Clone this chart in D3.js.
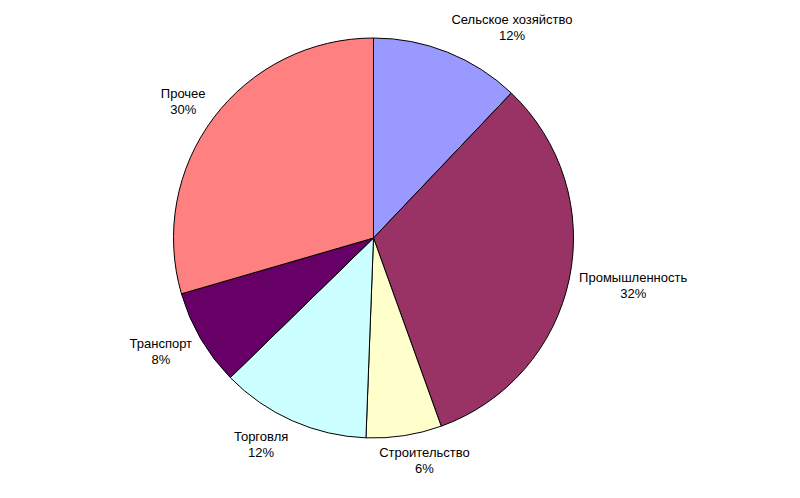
<!DOCTYPE html>
<html>
<head>
<meta charset="utf-8">
<script src="https://cdn.jsdelivr.net/npm/d3@7"></script>
<style>
  body { margin: 0; background: #fff; }
  svg text { font-family: "Liberation Sans", Arial, sans-serif; font-size: 13px; fill: #000; }
</style>
</head>
<body>
<script>
  // Sectors, clockwise from 12 o'clock (shares in %, labels show them rounded)
  let sectors = ['Сельское хозяйство', 'Промышленность', 'Строительство', 'Торговля', 'Транспорт', 'Прочее'];
  let shares  = [12.1, 32.4, 6.1, 12.1, 7.8, 29.5];
  let colours = ['#9999ff', '#993366', '#ffffcc', '#ccffff', '#660066', '#ff8080'];

  let width = 800, height = 498;
  let cx = 373.5, cy = 238, radius = 200;

  let svg = d3.select('body').append('svg')
      .attr('width', width)
      .attr('height', height);

  let data = sectors.map((s, i) => ({ name: s, value: shares[i], colour: colours[i] }));

  let pie = d3.pie().value(d => d.value).sort(null);
  let arc = d3.arc().innerRadius(0).outerRadius(radius);

  let g = svg.append('g').attr('transform', 'translate(' + cx + ',' + cy + ')');

  g.selectAll('path.slice')
    .data(pie(data))
    .enter()
    .append('path')
    .attr('class', 'slice')
    .attr('d', arc)
    .attr('fill', d => d.data.colour)
    .attr('stroke', '#000')
    .attr('stroke-width', 1);

  // Labels sit just outside the rim, pushed away from the pie by half their box
  let labelR = radius + 10;
  let lineH = 16;

  let labels = g.selectAll('g.label')
    .data(pie(data))
    .enter()
    .append('g')
    .attr('class', 'label');

  labels.each(function (d) {
    let el = d3.select(this);
    let t = el.append('text').attr('text-anchor', 'middle');
    t.append('tspan').attr('x', 0).attr('y', -lineH / 2 + 4).text(d.data.name);
    t.append('tspan').attr('x', 0).attr('y', lineH / 2 + 4).text(Math.round(d.data.value) + '%');

    let w = t.node().getBBox().width;
    let h = lineH * 2;
    let a = (d.startAngle + d.endAngle) / 2;
    let s = Math.sin(a), c = Math.cos(a);
    let px = labelR * s, py = -labelR * c;
    let fx = Math.sign(s) * Math.min(1, Math.abs(s) / 0.37);
    let fy = Math.abs(c) < 0.3 ? -Math.sign(c) * 0.3 : -c;
    el.attr('transform', 'translate(' + (px + fx * w / 2) + ',' + (py + fy * h / 2) + ')');
  });
</script>
</body>
</html>
